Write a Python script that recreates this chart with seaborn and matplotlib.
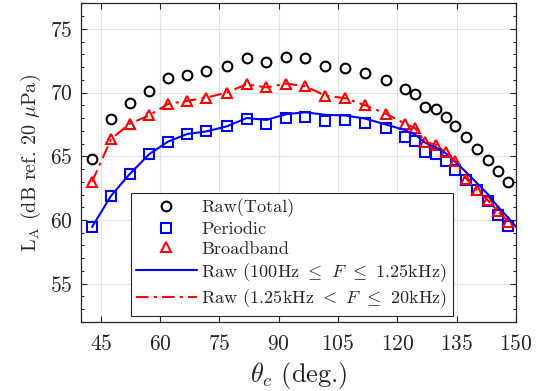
import matplotlib
matplotlib.use("Agg")
import matplotlib.pyplot as plt
import seaborn as sns
import pandas as pd
from matplotlib.ticker import MultipleLocator
from matplotlib.lines import Line2D

# Observer angle (deg.) and A-weighted levels (dB ref. 20 uPa)
theta = [42.8, 47.6, 52.3, 57.2, 62.0, 66.9, 71.7, 76.9, 81.9, 86.9, 91.9,
         96.7, 101.8, 106.8, 111.9, 117.0, 122.0, 124.5, 127.1, 129.7, 132.2,
         134.7, 137.4, 140.1, 142.8, 145.4, 148.1]
raw_total = [64.8, 67.9, 69.2, 70.1, 71.1, 71.4, 71.7, 72.1, 72.7, 72.4, 72.8,
             72.7, 72.1, 71.95, 71.55, 71.0, 70.25, 69.85, 68.9, 68.7, 68.1,
             67.4, 66.5, 65.55, 64.7, 63.85, 63.0]
periodic = [59.45, 61.9, 63.6, 65.15, 66.15, 66.75, 66.95, 67.35, 67.9, 67.55,
            68.0, 68.1, 67.75, 67.85, 67.6, 67.25, 66.55, 66.2, 65.35, 65.15,
            64.6, 63.9, 63.15, 62.35, 61.5, 60.4, 59.55]
broadband = [63.0, 66.35, 67.55, 68.2, 69.1, 69.35, 69.6, 70.0, 70.65, 70.4,
             70.7, 70.5, 69.75, 69.55, 69.0, 68.35, 67.55, 67.2, 66.1, 65.9,
             65.3, 64.6, 63.25, 62.35, 61.55, 60.7, 59.85]

# Band-limited raw spectra integrated over the same angles
theta_line = theta + [150.8]
raw_low = [59.45, 61.9, 63.6, 65.15, 66.15, 66.75, 66.95, 67.35, 68.0, 67.85,
           68.3, 68.45, 68.25, 68.2, 67.95, 67.5, 67.05, 66.7, 66.05, 65.7,
           65.25, 64.55, 63.75, 62.9, 62.05, 61.05, 60.15, 59.2]
raw_high = [63.0, 66.35, 67.55, 68.2, 69.1, 69.35, 69.6, 70.0, 70.65, 70.4,
            70.7, 70.5, 69.75, 69.55, 69.0, 68.35, 67.55, 67.2, 66.1, 65.9,
            65.3, 64.6, 63.25, 62.35, 61.55, 60.7, 59.85, 58.9]

labels = ["Raw(Total)", "Periodic", "Broadband",
          r"Raw (100Hz $\leq$ $F$ $\leq$ 1.25kHz)",
          r"Raw (1.25kHz $<$ $F$ $\leq$ 20kHz)"]

sns.set_theme(style="ticks")
plt.rcParams.update({
    "font.family": "serif",
    "font.serif": ["cmr10"],
    "mathtext.fontset": "cm",
    "axes.formatter.use_mathtext": True,
    "axes.unicode_minus": False,
})

dark = "#262626"
fig = plt.figure(figsize=(5.45, 3.91), dpi=100)
ax = fig.add_axes([0.1486, 0.1765, 0.7982, 0.8151])

pts = pd.DataFrame({"theta": theta, "total": raw_total,
                    "periodic": periodic, "broadband": broadband})
lines = pd.DataFrame({"theta": theta_line, "low": raw_low, "high": raw_high})

ms = 7
dashdot = (0, (6, 2.5, 1.5, 2.5))
sns.lineplot(data=pts, x="theta", y="total", ax=ax, linestyle="none",
             marker="o", markersize=ms, markerfacecolor="none",
             markeredgecolor="black", markeredgewidth=1.5, color="black")
sns.lineplot(data=pts, x="theta", y="periodic", ax=ax, linestyle="none",
             marker="s", markersize=ms - 0.5, markerfacecolor="none",
             markeredgecolor="blue", markeredgewidth=1.5, color="blue")
sns.lineplot(data=pts, x="theta", y="broadband", ax=ax, linestyle="none",
             marker="^", markersize=ms + 0.5, markerfacecolor="none",
             markeredgecolor="red", markeredgewidth=1.5, color="red")
sns.lineplot(data=lines, x="theta", y="low", ax=ax, color="blue",
             linewidth=1.5, linestyle="-")
sns.lineplot(data=lines, x="theta", y="high", ax=ax, color="red",
             linewidth=1.5, linestyle=dashdot)

ax.set_xlim(40, 150)
ax.set_ylim(52, 77)
ax.xaxis.set_major_locator(MultipleLocator(15))
ax.yaxis.set_major_locator(MultipleLocator(5))
ax.yaxis.set_minor_locator(MultipleLocator(1))
ax.grid(True, which="major", color="#e3e3e3", linewidth=0.8)
ax.set_axisbelow(True)
for s in ax.spines.values():
    s.set_color(dark)
    s.set_linewidth(0.9)
ax.tick_params(which="both", direction="in", top=True, right=True,
               colors=dark, labelcolor=dark, labelsize=15.5, width=0.8)
ax.tick_params(which="major", length=4.5)
ax.tick_params(which="minor", length=2.5)
ax.tick_params(axis="x", which="major", pad=9)
ax.tick_params(axis="y", which="major", pad=6)

ax.set_xlabel(r"$\theta_c$ (deg.)", fontsize=19, color=dark, labelpad=4)
ax.set_ylabel(r"$\mathrm{L_A}$ (dB ref. 20 $\mu$Pa)", fontsize=14.5,
              color=dark, labelpad=5)

handles = [
    Line2D([], [], linestyle="none", marker="o", markersize=ms,
           markerfacecolor="none", markeredgecolor="black", markeredgewidth=1.5),
    Line2D([], [], linestyle="none", marker="s", markersize=ms - 0.5,
           markerfacecolor="none", markeredgecolor="blue", markeredgewidth=1.5),
    Line2D([], [], linestyle="none", marker="^", markersize=ms + 0.5,
           markerfacecolor="none", markeredgecolor="red", markeredgewidth=1.5),
    Line2D([], [], color="blue", linewidth=1.5),
    Line2D([], [], color="red", linewidth=1.5, linestyle=dashdot),
]
leg = ax.legend(handles, labels, loc="lower left",
                bbox_to_anchor=(0.115, 0.019), borderaxespad=0,
                fontsize=13.1, frameon=True, fancybox=False,
                handlelength=3.3, handletextpad=0.25, labelspacing=0.23,
                borderpad=0.3, numpoints=1)
leg.get_frame().set_edgecolor(dark)
leg.get_frame().set_linewidth(0.8)
leg.get_frame().set_alpha(1)
for t in leg.get_texts():
    t.set_color(dark)

fig.savefig("out.png", dpi=100)
